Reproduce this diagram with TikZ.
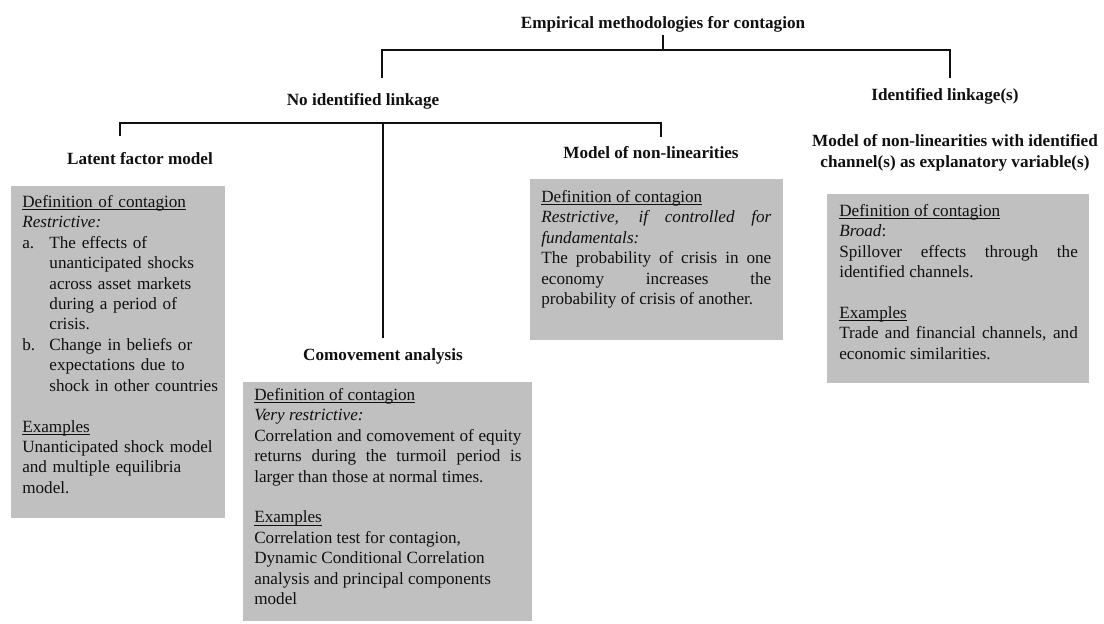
\documentclass[tikz,border=0pt]{standalone}
\usepackage{fontspec}
\setmainfont{Liberation Serif}
\usetikzlibrary{positioning}
\definecolor{ink}{HTML}{101010}
\definecolor{boxFill}{HTML}{C0C0C0}
\newcommand{\boxfont}{\fontsize{12}{14.3}\selectfont\tolerance=9999\hyphenpenalty=10000}
% underline close to the baseline, as a word processor sets it
\newcommand{\undl}[1]{\leavevmode\setbox0=\hbox{#1}\rlap{\rule[-1.7pt]{\wd0}{0.6pt}}\box0}
\tikzset{
  every node/.append style = {text=ink},
  % --- tree ---------------------------------------------------------------
  head/.style     = {font=\fontsize{12}{14.3}\selectfont\bfseries, align=center,
                     inner sep=2pt},
  treeline/.style = {draw=ink, line width=1.3pt},
  % --- grey boxes ---------------------------------------------------------
  greybox/.style  = {fill=boxFill},
  boxtext/.style  = {font=\boxfont, anchor=north west, inner sep=0pt},
}

\begin{document}
\begin{tikzpicture}[x=0.7pt, y=-0.7pt]
\useasboundingbox (0,0) rectangle (1104,623);

% ==================== headings ============================================
\node[head] (root)   at (663,24)  {Empirical methodologies for contagion};
\node[head] (nolink) at (363,101) {No identified linkage};
\node[head] (idlink) at (945,96)  {Identified linkage(s)};
\node[head] (latent) at (140,159) {Latent factor model};
\node[head] (nonlin) at (651,153) {Model of non-linearities};
\node[head] (chan)   at (955,153) {Model of non-linearities with identified\\
                                   channel(s) as explanatory variable(s)};
\node[head, inner ysep=7pt] (como) at (383,356) {Comovement analysis};

% ==================== tree ================================================
\coordinate (bar1) at (0,50);
\coordinate (bar2) at (0,123);
\coordinate (tl) at (382,78);
\coordinate (tr) at (950,78);
\coordinate (sl) at (120,136);
\coordinate (sr) at (661,137);

\draw[treeline] (root.south) -- (root.south |- bar1);
\draw[treeline] (tl) -- (tl |- bar1) -- (tr |- bar1) -- (tr);
\draw[treeline] (sl) -- (sl |- bar2) -- (sr |- bar2) -- (sr);
\draw[treeline] (como.north) -- (como.north |- bar2);

% ==================== boxes ===============================================
\fill[greybox] (11,186)  rectangle (225,518);
\fill[greybox] (243,382) rectangle (532,621);
\fill[greybox] (530,179) rectangle (783,340);
\fill[greybox] (827,194) rectangle (1089,383);

\node[boxtext, text width=140pt, align=left] (latentdef) at (22,195) {%
  \undl{Definition of contagion}\newline
  \textit{Restrictive:}\par
  \hangindent=19pt\hangafter=1 \makebox[19pt][l]{a.}The effects of\newline
  unanticipated shocks\newline across asset markets\newline
  during a period of\newline crisis.\par
  \hangindent=19pt\hangafter=1 \makebox[19pt][l]{b.}Change in beliefs or\newline
  expectations due to\newline shock in other countries\par
  \vskip\baselineskip
  \undl{Examples}\newline
  Unanticipated shock model\newline and multiple equilibria\newline model.};

\node[boxtext, text width=187pt, align=justify] (comodef) at (254,388) {%
  \undl{Definition of contagion}\newline
  \textit{Very restrictive:}\newline
  Correlation and comovement of equity\linebreak
  returns during the turmoil period is\linebreak
  larger than those at normal times.\par
  \vskip\baselineskip
  \undl{Examples}\newline
  Correlation test for contagion,\newline
  Dynamic Conditional Correlation\newline
  analysis and principal components\newline
  model};

\node[boxtext, text width=161pt, align=justify] (nonlindef) at (541,190) {%
  \undl{Definition of contagion}\newline
  \textit{Restrictive, if controlled for\linebreak fundamentals:}\newline
  The probability of crisis in one\linebreak
  economy increases the\linebreak
  probability of crisis of another.};

\node[boxtext, text width=167pt, align=justify] (chandef) at (839,204) {%
  \undl{Definition of contagion}\newline
  \textit{Broad}:\newline
  Spillover effects through the\linebreak
  identified channels.\par
  \vskip\baselineskip
  \undl{Examples}\newline
  Trade and financial channels, and\linebreak
  economic similarities.};

\end{tikzpicture}
\end{document}
